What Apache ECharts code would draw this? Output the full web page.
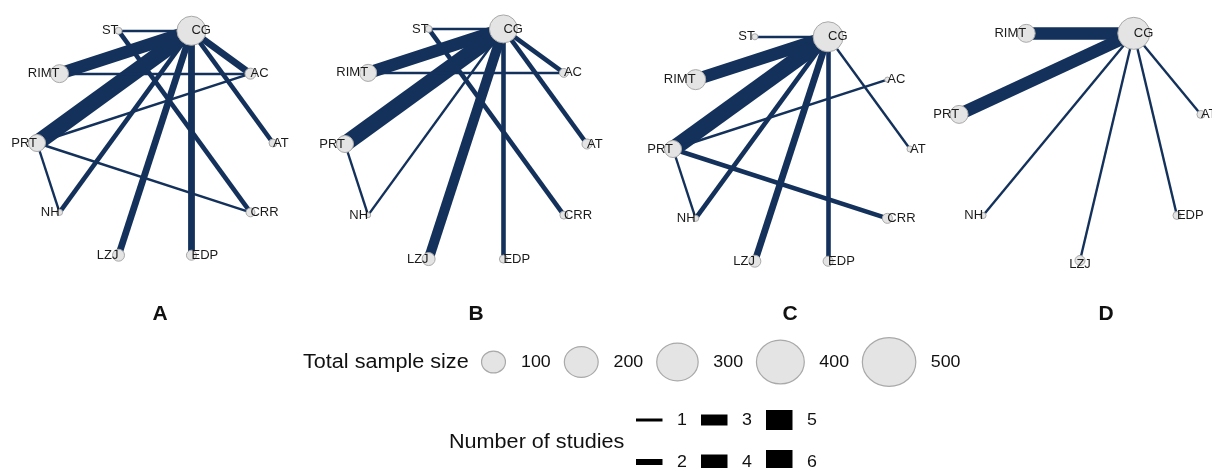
<!DOCTYPE html>
<html>
<head>
<meta charset="utf-8">
<script src="https://cdn.jsdelivr.net/npm/echarts@6/dist/echarts.min.js"></script>
<style>
  html, body { margin: 0; padding: 0; background: #ffffff; }
  #chart { width: 1212px; height: 468px; }
</style>
</head>
<body>
<div id="chart"></div>
<script>
// Treatments placed clockwise around each network, starting from CG
const ringFull = ['CG', 'AC', 'AT', 'CRR', 'EDP', 'LZJ', 'NH', 'PRT', 'RIMT', 'ST'];
const ringD = ['CG', 'AT', 'EDP', 'LZJ', 'NH', 'PRT', 'RIMT'];

// Total sample size of each treatment (same order as its ring)
const sizeA = [160, 23, 12, 15, 19, 27, 7, 55, 61, 9];
const sizeB = [148, 15, 19, 12, 12, 32, 5, 55, 55, 9];
const sizeC = [170, 5, 7, 19, 19, 27, 7, 55, 76, 7];
const sizeD = [194, 12, 12, 19, 7, 61, 61];

// Direct comparisons: [treatment, treatment, number of studies]
const linksA = [
  ['CG', 'ST', 1], ['ST', 'CRR', 2], ['CG', 'RIMT', 5], ['CG', 'PRT', 6],
  ['RIMT', 'AC', 1], ['CG', 'AC', 3], ['CG', 'AT', 2], ['PRT', 'AC', 1],
  ['PRT', 'CRR', 1], ['PRT', 'NH', 1], ['CG', 'NH', 2], ['CG', 'LZJ', 3],
  ['CG', 'EDP', 3]
];
const linksB = [
  ['CG', 'ST', 1], ['ST', 'CRR', 2], ['CG', 'RIMT', 5], ['CG', 'PRT', 6],
  ['RIMT', 'AC', 1], ['CG', 'AC', 2], ['CG', 'AT', 2], ['PRT', 'NH', 1],
  ['CG', 'NH', 1], ['CG', 'LZJ', 4], ['CG', 'EDP', 2]
];
const linksC = [
  ['CG', 'ST', 1], ['CG', 'RIMT', 5], ['CG', 'PRT', 6], ['CG', 'AT', 1],
  ['PRT', 'AC', 1], ['PRT', 'CRR', 2], ['PRT', 'NH', 1], ['CG', 'NH', 2],
  ['CG', 'LZJ', 3], ['CG', 'EDP', 2]
];
const linksD = [
  ['CG', 'RIMT', 5], ['CG', 'PRT', 5], ['CG', 'NH', 1], ['CG', 'LZJ', 1],
  ['CG', 'EDP', 1], ['CG', 'AT', 1]
];

const panelLetters = ['A', 'B', 'C', 'D'];

// Legend values
const legendSampleSizes = [100, 200, 300, 400, 500];
const legendStudyCounts = [1, 2, 3, 4, 5, 6];

// ---- styling ----
const FONT = "'Liberation Sans', Arial, Helvetica, sans-serif";
const EDGE_COLOR = '#13315b';
const NODE_FILL = '#e4e4e4';
const NODE_BORDER = '#a9a9a9';
const edgeWidthByStudies = [0, 2.4, 4.6, 6.8, 10, 12.5, 16];
const legendBarHeight = [0, 3, 6, 11, 15, 20, 24];
const diameterOf = n => 2.3 * Math.sqrt(n);
const LEGEND_STRETCH = 1.08;

const panels = [
  { ring: ringFull, sizes: sizeA, links: linksA, box: { left: 37, top: 25, width: 236, height: 236 }, letterX: 160 },
  { ring: ringFull, sizes: sizeB, links: linksB, box: { left: 345, top: 23, width: 242, height: 242 }, letterX: 476 },
  { ring: ringFull, sizes: sizeC, links: linksC, box: { left: 673, top: 31, width: 237, height: 236 }, letterX: 790 },
  { ring: ringD, sizes: sizeD, links: linksD, box: { left: 956, top: 21.5, width: 248, height: 239 }, letterX: 1106 }
];

const grid = [], xAxis = [], yAxis = [], series = [];

panels.forEach((p, i) => {
  grid.push(Object.assign({ containLabel: false }, p.box));
  xAxis.push({ type: 'value', gridIndex: i, min: -1, max: 1, show: false });
  yAxis.push({ type: 'value', gridIndex: i, min: -1, max: 1, show: false });

  // evenly spaced on a circle, first node half a step right of the top
  const n = p.ring.length;
  const step = 360 / n;
  const start = 90 - step / 2;

  const nodes = p.ring.map((name, k) => {
    const a = (start - k * step) * Math.PI / 180;
    const x = Math.cos(a), y = Math.sin(a);
    const side = x > 0.05 ? 'left' : (x < -0.05 ? 'right' : 'center');
    return {
      name: name,
      value: [x, y],
      symbolSize: diameterOf(p.sizes[k]),
      label: side === 'center' ? { align: 'center', offset: [0, 4] } : { align: side }
    };
  });

  series.push({
    type: 'graph',
    coordinateSystem: 'cartesian2d',
    xAxisIndex: i,
    yAxisIndex: i,
    layout: 'none',
    silent: true,
    animation: false,
    symbol: 'circle',
    itemStyle: { color: NODE_FILL, borderColor: NODE_BORDER, borderWidth: 1 },
    label: {
      show: true,
      position: 'inside',
      color: '#1b1b1b',
      fontSize: 13,
      fontFamily: FONT
    },
    lineStyle: { color: EDGE_COLOR, opacity: 1, curveness: 0 },
    emphasis: { disabled: true },
    data: nodes,
    links: p.links.map(([s, t, k]) => ({
      source: s, target: t, lineStyle: { width: edgeWidthByStudies[k] }
    }))
  });
});

// ---- panel letters and legends ----
const graphic = [];

panels.forEach((p, i) => {
  graphic.push({
    type: 'text', x: p.letterX, y: 314,
    style: { text: panelLetters[i], fill: '#111', font: 'bold 21px ' + FONT, textAlign: 'center', textVerticalAlign: 'middle' }
  });
});

function legendText(str, x, y, size) {
  return {
    type: 'text', x: x, y: y, scaleX: LEGEND_STRETCH,
    style: { text: str, fill: '#111', font: size + 'px ' + FONT, textAlign: 'left', textVerticalAlign: 'middle' }
  };
}

// Total sample size legend
const rowY1 = 362;
graphic.push(legendText('Total sample size', 303, rowY1, 20));
let cursor = 482;
legendSampleSizes.forEach(v => {
  const r = diameterOf(v) / 2;
  const cx = cursor + r;
  graphic.push({
    type: 'ellipse',
    shape: { cx: cx, cy: rowY1, rx: r * 1.04, ry: r * 0.95 },
    style: { fill: NODE_FILL, stroke: NODE_BORDER, lineWidth: 1.2 }
  });
  const lx = cx + r + 16;
  graphic.push(legendText(String(v), lx, rowY1, 16.5));
  cursor = lx + 29 + 15;
});

// Number of studies legend
graphic.push(legendText('Number of studies', 449, 442, 20));
const studyRows = [420, 462];
const studyCols = [636, 701, 766];
legendStudyCounts.forEach((c, idx) => {
  const col = Math.floor(idx / 2), row = idx % 2;
  const h = legendBarHeight[c];
  const x0 = studyCols[col], yc = studyRows[row];
  graphic.push({
    type: 'rect',
    shape: { x: x0, y: yc - h / 2, width: 26.5, height: h },
    style: { fill: '#000' }
  });
  graphic.push(legendText(String(c), x0 + 41, yc, 16.5));
});

const chart = echarts.init(document.getElementById('chart'));
chart.setOption({
  backgroundColor: '#ffffff',
  animation: false,
  grid: grid,
  xAxis: xAxis,
  yAxis: yAxis,
  series: series,
  graphic: graphic
});
</script>
</body>
</html>
